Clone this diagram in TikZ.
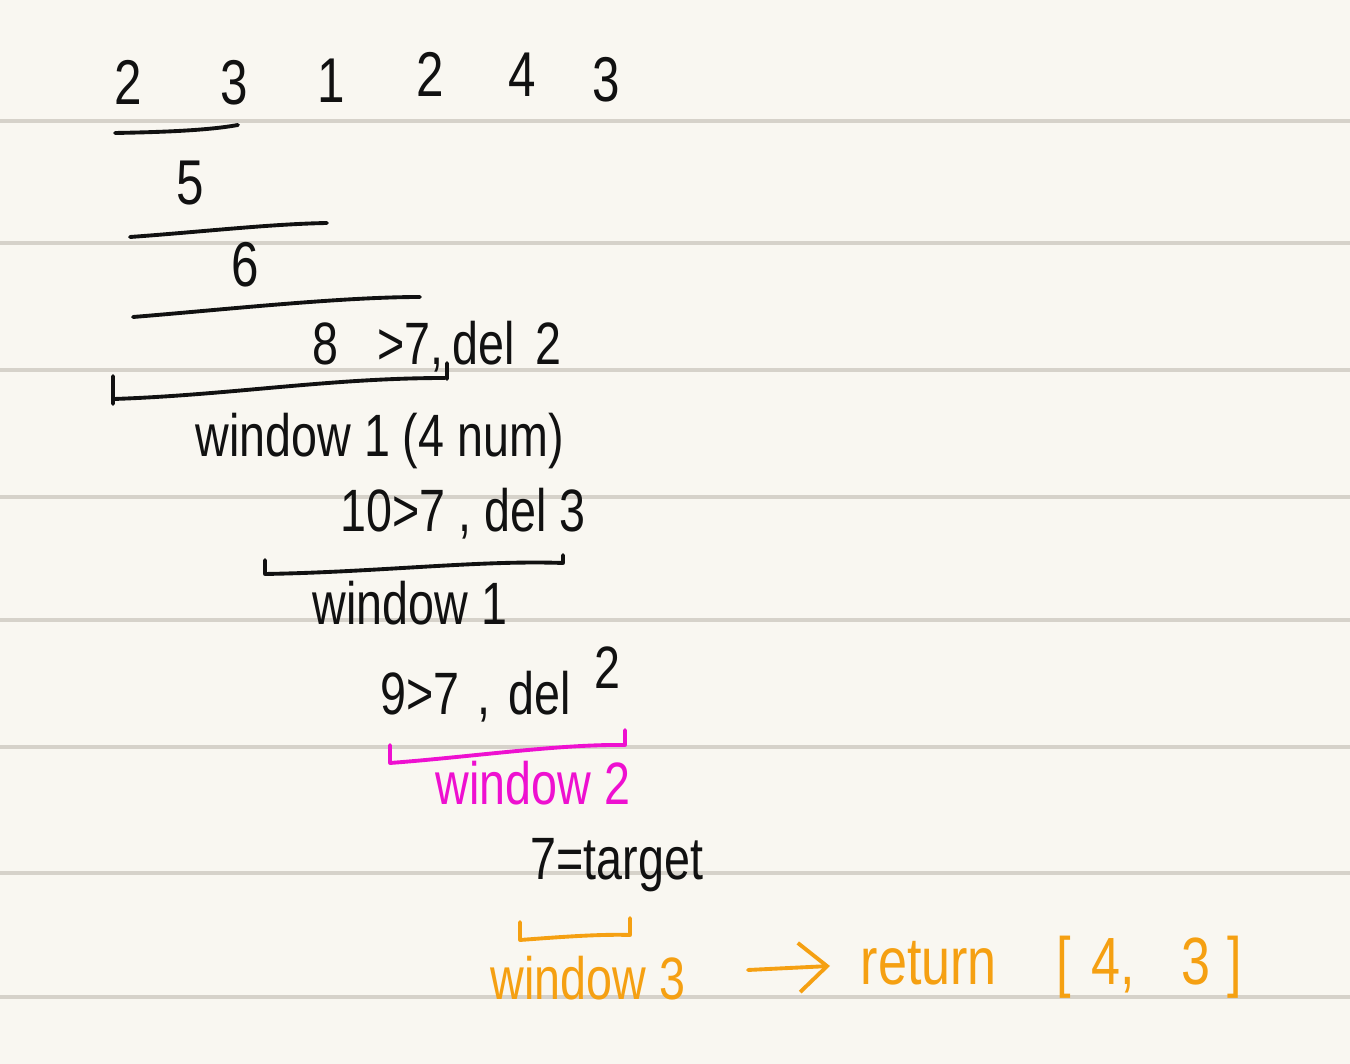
\documentclass[tikz,border=0pt]{standalone}
\usepackage{fontspec}
\setmainfont{Liberation Sans}[FakeStretch=0.78]
\usetikzlibrary{arrows.meta}
\definecolor{paper}{HTML}{F9F7F1}
\definecolor{rule}{HTML}{D6D2CA}
\definecolor{ink}{HTML}{111111}
\definecolor{pinkink}{HTML}{EE10D0}
\definecolor{orangeink}{HTML}{F5A012}
\tikzset{
  hw/.style={font=\fontsize{17}{20}\selectfont, anchor=base west, inner sep=0pt, text=ink},
  dig/.style={font=\fontsize{18}{20}\selectfont, anchor=base, inner sep=0pt, text=ink},
  pen/.style={line width=1.1pt, line cap=round, line join=round, draw=ink},
  ruleline/.style={draw=rule, line width=0.9pt}
}
\begin{document}
\begin{tikzpicture}[x=0.01cm, y=-0.01cm]
\fill[paper] (0,0) rectangle (1350,1064);
\useasboundingbox (0,0) rectangle (1350,1064);
\foreach \yy in {121,243,370,497,620,747,873,997}
  \draw[ruleline] (0,\yy) -- (1350,\yy);

% top row of numbers
\node[dig] (n1) at (128,105) {2};
\node[dig] (n2) at (234,105) {3};
\node[dig] (n3) at (331,103) {1};
\node[dig] (n4) at (430,97) {2};
\node[dig] (n5) at (522,97) {4};
\node[dig] (n6) at (606,102) {3};

% sums
\node[dig] (s5) at (190,205) {5};
\node[dig] (s6) at (245,287) {6};

\draw[pen] (115,133) .. controls (170,132) and (210,130) .. (238,125);
\draw[pen] (130,237) .. controls (200,232) and (270,224) .. (327,223);
\draw[pen] (133,317) .. controls (220,310) and (340,297) .. (420,297);

% step 8
\node[hw] (t8) at (312,365) {8\hspace{0.65em}>7,\hspace{0.15em}del\hspace{0.35em}2};
\draw[pen] (113,376) -- (113,404) (114,399) .. controls (230,395) and (330,378) .. (445,378) (447,379) -- (447,363);
\node[hw] (w1a) at (195,457) {window 1 (4 num)};

% step 10
\node[hw] (t10) at (340,532) {10>7 , del 3};
\draw[pen] (265,560) -- (265,574) .. controls (380,572) and (480,560) .. (563,563) -- (563,555);
\node[hw] (w1b) at (312,625) {window 1};

% step 9
\node[hw] (t9) at (380,715) {9>7\hspace{0.3em},\hspace{0.3em}del\hspace{0.4em}\raisebox{0.45em}{2}};
\draw[pen, draw=pinkink] (390,745) -- (390,763) .. controls (470,757) and (560,744) .. (625,745) -- (625,730);
\node[hw, text=pinkink] (w2) at (435,805) {window 2};

% target
\node[hw] (t7) at (530,880) {7=target};
\draw[pen, draw=orangeink] (520,922) -- (520,940) .. controls (560,937) and (600,934) .. (630,935) -- (630,918);
\node[hw, text=orangeink] (w3) at (490,1000) {window 3};
\node[hw, text=orangeink, font=\fontsize{19}{20}\selectfont] (ret) at (860,985) {return\hspace{0.9em}[\hspace{0.3em}4,\hspace{0.7em}3\hspace{0.25em}]};
\coordinate (a1) at (748,970);
\coordinate (a2) at (830,966);
\draw[pen, draw=orangeink, -{Straight Barb[length=8pt,width=14pt]}] (a1) -- (a2);
\end{tikzpicture}
\end{document}
